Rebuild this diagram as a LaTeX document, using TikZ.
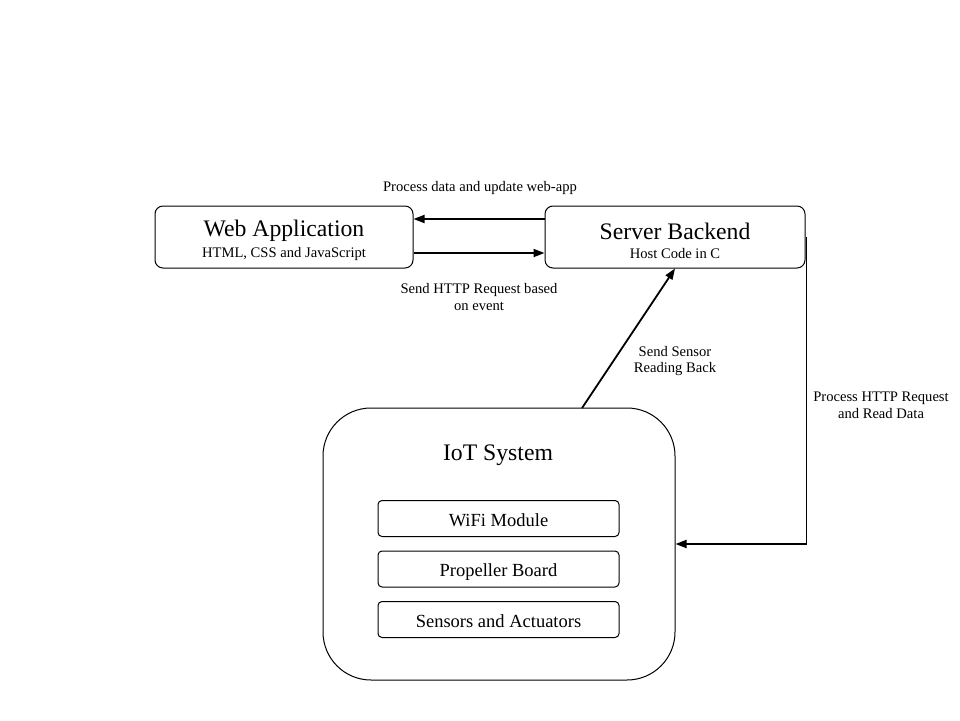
\documentclass[tikz,border=0pt]{standalone}
\usepackage{fontspec}
\setmainfont{Liberation Serif}
\usetikzlibrary{arrows.meta,calc}
\begin{document}
\begin{tikzpicture}[x=1pt,y=-1pt,
  box/.style={draw=black,line width=1pt,rounded corners=8pt,minimum width=#1,inner sep=0pt},
  box/.default=258pt,
  big/.style={font=\fontsize{23.7}{27}\selectfont},
  small/.style={font=\fontsize{14.6}{17}\selectfont},
  mid/.style={font=\fontsize{18.5}{21}\selectfont},
  lbl/.style={font=\fontsize{14.6}{16.5}\selectfont,align=center},
  conn/.style={line width=1.8pt,-{Triangle[length=11pt,width=8pt]}},
  sub/.style={draw=black,line width=1pt,rounded corners=4pt,minimum width=241pt,minimum height=36pt,inner sep=0pt,text height=15pt,text depth=0pt}
]
\useasboundingbox (0,0) rectangle (960,720);
% main boxes
\node[box=258pt,minimum height=62pt] (web) at (284,237) {};
\node[box=260pt,minimum height=62pt] (srv) at (675,237) {};
\node[draw=black,line width=1pt,rounded corners=48pt,minimum width=352pt,minimum height=272pt,inner sep=0pt] (iot) at (499,544) {};
% texts
\node[big] (webt) at (284,231) {Web Application};
\node[small] (webs) at (284,254) {HTML, CSS and JavaScript};
\node[big] (srvt) at (675,231) {Server Backend};
\node[small] (srvs) at (675,254) {Host Code in C};
\node[big] (iott) at (498,455.5) {IoT System};
% sub modules
\node[sub,mid] (wifi) at (498.5,518.5) {WiFi Module};
\node[sub,mid] (prop) at (498.5,569) {Propeller Board};
\node[sub,mid] (sens) at (498.5,619.5) {Sensors and Actuators};
% connectors
\draw[conn] ([yshift=18pt]srv.west) -- ([yshift=18pt]web.east);
\draw[conn] ([yshift=-16pt]web.east) -- ([yshift=-16pt]srv.west);
\coordinate (iotout) at (582,408);
\draw[conn] (iotout) -- (srv.south);
\draw[conn] ([xshift=1pt]srv.east) |- (iot.east);
% labels
\node[lbl] (l1) at (480,188) {Process data and update web-app};
\node[lbl] (l2) at (479,297) {Send HTTP Request based\\on event};
\node[lbl] (l3) at (675,361) {Send Sensor\\Reading Back};
\node[lbl] (l4) at (881,405.5) {Process HTTP Request\\and Read Data};
\end{tikzpicture}
\end{document}
